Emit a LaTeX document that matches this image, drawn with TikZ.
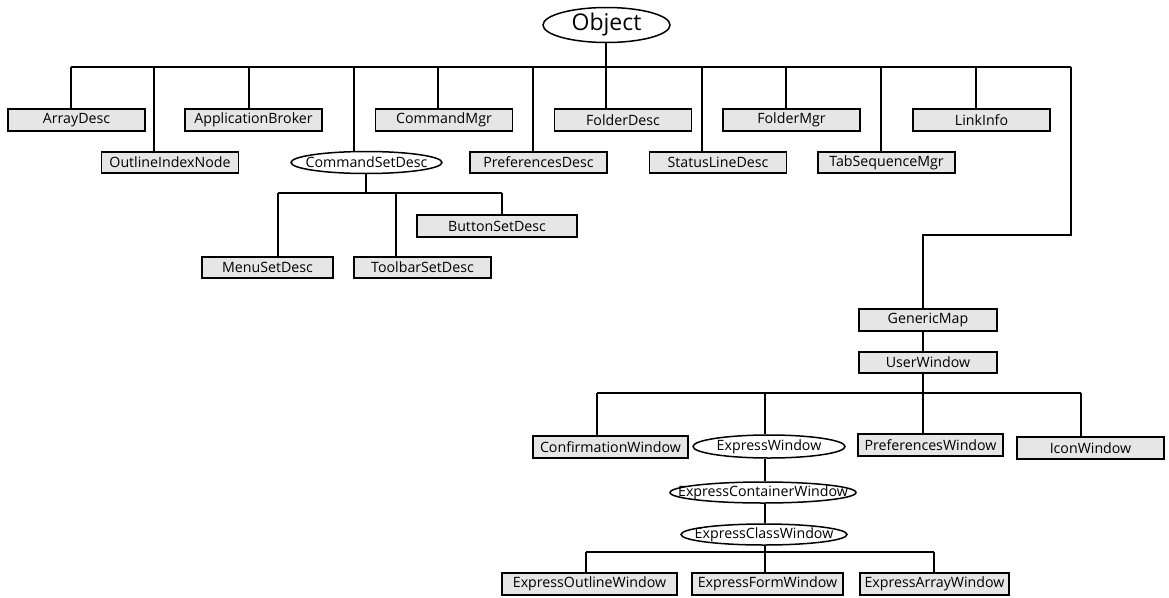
\documentclass[tikz,border=0pt]{standalone}
\usepackage{fontspec}
\setmainfont{Open Sans}
\usetikzlibrary{shapes.geometric,backgrounds}
\definecolor{boxfill}{HTML}{E6E6E6}
% label whose width does not enlarge the shape around it
\newcommand\lbl[1]{\makebox[0pt]{#1}}
\begin{document}
\begin{tikzpicture}[x=1pt,y=-1pt,
  cls/.style={rectangle,draw,fill=boxfill,line width=1.6pt,inner sep=0pt,
    minimum width=137,minimum height=22,font=\fontsize{14.2}{16}\selectfont},
  abst/.style={ellipse,draw,fill=white,line width=1.5pt,inner sep=0pt,
    minimum height=22,font=\fontsize{14.2}{16}\selectfont},
  link/.style={line width=1.3pt}]
\useasboundingbox (0,0) rectangle (1169,597);

% root
\node[abst,minimum width=127,minimum height=35,font=\fontsize{23}{25}\selectfont] (obj) at (606.5,25) {\lbl{Object}};

% first level
\node[cls] (arr)  at (76.5,120)  {\lbl{ArrayDesc}};
\node[cls] (app)  at (253.5,120) {\lbl{ApplicationBroker}};
\node[cls] (cmd)  at (444,120)   {\lbl{CommandMgr}};
\node[cls] (fdd)  at (623,120)   {\lbl{FolderDesc}};
\node[cls] (fdm)  at (791.5,120) {\lbl{FolderMgr}};
\node[cls] (lnk)  at (981.5,120) {\lbl{LinkInfo}};
\node[cls,minimum height=21] (oin) at (170,162.5)   {\lbl{OutlineIndexNode}};
\node[abst,minimum width=151] (csd) at (366.5,162.5) {\lbl{CommandSetDesc}};
\node[cls,minimum height=21] (prd) at (538.5,162.5) {\lbl{PreferencesDesc}};
\node[cls,minimum height=21] (sld) at (718,162.5)   {\lbl{StatusLineDesc}};
\node[cls,minimum height=21] (tsm) at (886.5,162.5) {\lbl{TabSequenceMgr}};

% command set descriptions
\node[cls,minimum width=160] (btn) at (497,226)   {\lbl{ButtonSetDesc}};
\node[cls,minimum width=131,minimum height=21] (mnu) at (267.5,267.5) {\lbl{MenuSetDesc}};
\node[cls,minimum height=21] (tbr) at (422.5,267.5) {\lbl{ToolbarSetDesc}};

% window branch
\node[cls,minimum width=138] (gm) at (928,320)   {\lbl{GenericMap}};
\node[cls,minimum width=138,minimum height=21] (uw) at (928,362.5) {\lbl{UserWindow}};
\node[cls,minimum width=155] (cfw) at (610.5,447) {\lbl{ConfirmationWindow}};
\node[abst,minimum width=152,minimum height=23] (ew) at (769,446.5) {\lbl{ExpressWindow}};
\node[cls,minimum width=145] (pfw) at (930.5,445) {\lbl{PreferencesWindow}};
\node[cls,minimum width=147] (icw) at (1090.5,448) {\lbl{IconWindow}};
\node[abst,minimum width=186,minimum height=21] (ecw) at (763,492.5) {\lbl{ExpressContainerWindow}};
\node[abst,minimum width=166,minimum height=21] (eclw) at (764,534.5) {\lbl{ExpressClassWindow}};
\node[cls,minimum width=175] (eow) at (589.5,584) {\lbl{ExpressOutlineWindow}};
\node[cls,minimum width=151] (efw) at (767.5,584) {\lbl{ExpressFormWindow}};
\node[cls,minimum width=149] (eaw) at (934.5,584) {\lbl{ExpressArrayWindow}};

% junction points on the branch lines
\coordinate (objbar) at (606,67);
\coordinate (barL) at (71,67);
\coordinate (barR) at (1071,67);
\coordinate (jarr) at (71,67);
\coordinate (join) at (154,67);
\coordinate (japp) at (249,67);
\coordinate (jcsd) at (354,67);
\coordinate (jcmd) at (438,67);
\coordinate (jprd) at (533,67);
\coordinate (jfdd) at (606,67);
\coordinate (jsld) at (702,67);
\coordinate (jfdm) at (786,67);
\coordinate (jtsm) at (881,67);
\coordinate (jlnk) at (976,67);
\coordinate (turn) at (1071,235);
\coordinate (jgm) at (923,235);

\coordinate (csdbar) at (366,193);
\coordinate (jmnu) at (278,193);
\coordinate (jtbr) at (396,193);
\coordinate (jbtn) at (502,193);

\coordinate (uwbar) at (923,393);
\coordinate (jcfw) at (597,393);
\coordinate (jew) at (765,393);
\coordinate (jicw) at (1081,393);

\coordinate (eclbar) at (765,552);
\coordinate (jeow) at (586,552);
\coordinate (jeaw) at (934,552);

\begin{scope}[on background layer]
  % Object and its direct subclasses
  \draw[link] (obj.south -| objbar) -- (objbar);
  \draw[link] (barL) -- (barR);
  \foreach \n/\j in {arr/jarr,oin/join,app/japp,csd/jcsd,cmd/jcmd,prd/jprd,
                     fdd/jfdd,sld/jsld,fdm/jfdm,tsm/jtsm,lnk/jlnk}
    \draw[link] (\j) -- (\n.north -| \j);
  \draw[link] (barR) -- (turn) -- (jgm) -- (gm.north -| jgm);

  % CommandSetDesc subtree
  \draw[link] (csd.south -| csdbar) -- (csdbar);
  \draw[link] (jmnu) -- (jbtn);
  \foreach \n/\j in {mnu/jmnu,tbr/jtbr,btn/jbtn}
    \draw[link] (\j) -- (\n.north -| \j);

  % window classes
  \draw[link] (gm.south -| jgm) -- (uw.north -| jgm);
  \draw[link] (uw.south -| uwbar) -- (uwbar);
  \draw[link] (jcfw) -- (jicw);
  \foreach \n/\j in {cfw/jcfw,ew/jew,pfw/uwbar,icw/jicw}
    \draw[link] (\j) -- (\n.north -| \j);
  \draw[link] (ew.south -| jew) -- (ecw.north -| jew);
  \draw[link] (ecw.south -| jew) -- (eclw.north -| jew);
  \draw[link] (eclw.south -| eclbar) -- (eclbar);
  \draw[link] (jeow) -- (jeaw);
  \foreach \n/\j in {eow/jeow,efw/eclbar,eaw/jeaw}
    \draw[link] (\j) -- (\n.north -| \j);
\end{scope}
\end{tikzpicture}
\end{document}
